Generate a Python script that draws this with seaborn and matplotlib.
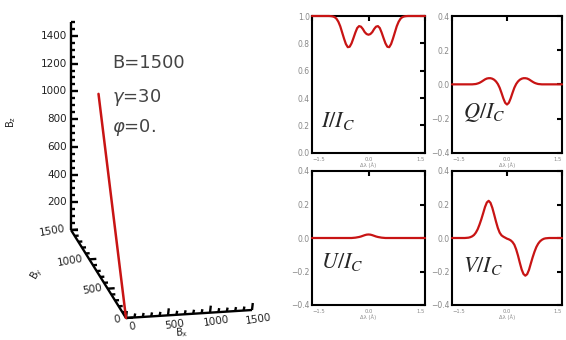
import numpy as np
import matplotlib
matplotlib.use('Agg')
import matplotlib.pyplot as plt
import seaborn as sns
from matplotlib.ticker import FuncFormatter

# Field vector parameters
B_field = 1500
gamma_deg = 30
phi_deg = 0

# Stokes profiles (every 0.05 A)
wavelength = [-1.5, -1.45, -1.4, -1.35, -1.3, -1.25, -1.2, -1.15, -1.1, -1.05,
              -1.0, -0.95, -0.9, -0.85, -0.8, -0.75, -0.7, -0.65, -0.6, -0.55,
              -0.5, -0.45, -0.4, -0.35, -0.3, -0.25, -0.2, -0.15, -0.1, -0.05,
              0.0, 0.05, 0.1, 0.15, 0.2, 0.25, 0.3, 0.35, 0.4, 0.45,
              0.5, 0.55, 0.6, 0.65, 0.7, 0.75, 0.8, 0.85, 0.9, 0.95,
              1.0, 1.05, 1.1, 1.15, 1.2, 1.25, 1.3, 1.35, 1.4, 1.45, 1.5]
stokes_I = [1.0, 1.0, 1.0, 1.0, 1.0, 1.0, 1.0, 1.0, 1.0, 1.0,
            0.999, 0.997, 0.992, 0.98, 0.958, 0.925, 0.88, 0.835, 0.795, 0.772,
            0.775, 0.80, 0.838, 0.878, 0.912, 0.926, 0.922, 0.905, 0.882, 0.868,
            0.863, 0.868, 0.882, 0.905, 0.922, 0.926, 0.912, 0.878, 0.838, 0.80,
            0.775, 0.772, 0.795, 0.835, 0.88, 0.925, 0.958, 0.98, 0.992, 0.997,
            0.999, 1.0, 1.0, 1.0, 1.0, 1.0, 1.0, 1.0, 1.0, 1.0, 1.0]
stokes_Q = [0.0, 0.0, 0.0, 0.0, 0.0, 0.0, 0.0, 0.0, 0.0, 0.0,
            0.0, 0.0, 0.001, 0.002, 0.005, 0.009, 0.015, 0.022, 0.029, 0.034,
            0.036, 0.036, 0.033, 0.027, 0.017, 0.002, -0.02, -0.05, -0.082, -0.108,
            -0.118, -0.108, -0.082, -0.05, -0.02, 0.002, 0.017, 0.027, 0.033, 0.036,
            0.036, 0.034, 0.029, 0.022, 0.015, 0.009, 0.005, 0.002, 0.001, 0.0,
            0.0, 0.0, 0.0, 0.0, 0.0, 0.0, 0.0, 0.0, 0.0, 0.0, 0.0]
stokes_U = [0.0, 0.0, 0.0, 0.0, 0.0, 0.0, 0.0, 0.0, 0.0, 0.0,
            0.0, 0.0, 0.0, 0.0, 0.0, 0.0, 0.0, 0.0, 0.0, 0.0,
            0.0, 0.0, 0.001, 0.002, 0.004, 0.006, 0.009, 0.013, 0.017, 0.020,
            0.021, 0.020, 0.017, 0.013, 0.009, 0.006, 0.004, 0.002, 0.001, 0.0,
            0.0, 0.0, 0.0, 0.0, 0.0, 0.0, 0.0, 0.0, 0.0, 0.0,
            0.0, 0.0, 0.0, 0.0, 0.0, 0.0, 0.0, 0.0, 0.0, 0.0, 0.0]
stokes_V = [0.0, 0.0, 0.0, 0.0, 0.0, 0.0, 0.0, 0.0, 0.001, 0.002,
            0.005, 0.01, 0.018, 0.032, 0.052, 0.08, 0.112, 0.148, 0.185, 0.212,
            0.222, 0.21, 0.18, 0.14, 0.098, 0.06, 0.032, 0.016, 0.008, 0.002,
            -0.004, -0.008, -0.014, -0.024, -0.04, -0.068, -0.105, -0.148, -0.188, -0.215,
            -0.225, -0.216, -0.19, -0.152, -0.115, -0.082, -0.054, -0.034, -0.02, -0.011,
            -0.005, -0.002, -0.001, 0.0, 0.0, 0.0, 0.0, 0.0, 0.0, 0.0, 0.0]

panel_labels = [r'$I/I_C$', r'$Q/I_C$', r'$U/I_C$', r'$V/I_C$']

sns.set_style('white')
plt.rcParams['font.family'] = ['DejaVu Sans']

red = '#c81414'
fig = plt.figure(figsize=(5.66, 3.4), dpi=100)

# ---- left: pseudo 3D view of the field vector (pixel coordinates) ----
ax3 = fig.add_axes([0, 0, 290 / 566, 1])
ax3.set_xlim(0, 290)
ax3.set_ylim(340, 0)
ax3.axis('off')

origin = np.array([126.0, 318.0])
ex = np.array([126.0, -8.0]) / 1500
ey = np.array([-55.0, -88.0]) / 1500
ez = np.array([0.0, -208.0]) / 1500

def proj(bx, by, bz):
    p = origin + bx * ex + by * ey + bz * ez
    return p[0], p[1]

def seg(p, q):
    ax3.plot([p[0], q[0]], [p[1], q[1]], color='black', lw=1.7,
             solid_capstyle='butt')

seg(proj(0, 0, 0), proj(1500, 0, 0))
seg(proj(0, 0, 0), proj(0, 1500, 0))
seg(proj(0, 1500, 0), proj(0, 1500, 1500))

tfont = dict(fontsize=7.5, color='#222222')
# Bx axis
for v in range(0, 1501, 100):
    x, y = proj(v, 0, 0)
    L = 7 if v % 500 == 0 else 4
    seg((x, y), (x + 0.8, y - L))
    if v % 500 == 0:
        ax3.text(x + 6, y + 9, str(v), ha='center', va='center', rotation=8, **tfont)
# By axis
for v in range(0, 1501, 100):
    x, y = proj(0, v, 0)
    L = 7 if v % 500 == 0 else 4
    seg((x, y), (x + L, y - L * 8 / 126))
    if v % 500 == 0:
        ax3.text(x - 5, y + 1, str(v), ha='right', va='center', rotation=10, **tfont)
# Bz axis
for v in range(0, 1501, 50):
    x, y = proj(0, 1500, v)
    L = 7 if v % 200 == 0 else 4
    seg((x, y), (x + L, y))
    if v % 200 == 0 and 0 < v < 1500:
        ax3.text(x - 4, y, str(v), ha='right', va='center', **tfont)

ax3.text(182, 333, r'B$_\mathrm{x}$', ha='center', va='center', rotation=5, fontsize=7)
ax3.text(37, 274, r'B$_\mathrm{y}$', ha='center', va='center', rotation=60, fontsize=7)
ax3.text(11, 122, r'B$_\mathrm{z}$', ha='center', va='center', rotation=90, fontsize=7)

# field vector
g = np.deg2rad(gamma_deg)
f = np.deg2rad(phi_deg)
bx_end = B_field * np.sin(g) * np.sin(f)
by_end = B_field * np.sin(g) * np.cos(f)
bz_end = B_field * np.cos(g)
p0 = proj(0, 0, 0)
p1 = proj(bx_end, by_end, bz_end)
sns.lineplot(x=[p0[0], p1[0]], y=[p0[1], p1[1]], ax=ax3, color=red, lw=1.8,
             sort=False, zorder=5)
ax3.set_xlim(0, 290)
ax3.set_ylim(340, 0)

big = dict(fontsize=13, color='#444444', va='center', ha='left')
ax3.text(112, 63, f'B={B_field}', **big)
ax3.text(112, 97, rf'$\gamma$={gamma_deg}', **big)
ax3.text(112, 127, rf'$\varphi$={phi_deg:.0f}.', **big)

# ---- right: Stokes profiles ----
W, H = 566, 340
boxes = [(312, 16, 425, 152.7), (452, 16, 562, 152.7),
         (312, 171, 425, 305), (452, 171, 562, 305)]
profiles = [stokes_I, stokes_Q, stokes_U, stokes_V]
label_pos = [(0.08, 0.19), (0.1, 0.255), (0.08, 0.276), (0.1, 0.246)]

fmt = FuncFormatter(lambda v, p: f'{v:.1f}'.replace('-', '\u2212') if abs(v) > 1e-9 else '0.0')

for i, (box, prof) in enumerate(zip(boxes, profiles)):
    x0, y0, x1, y1 = box
    ax = fig.add_axes([x0 / W, 1 - y1 / H, (x1 - x0) / W, (y1 - y0) / H])
    sns.lineplot(x=wavelength, y=prof, ax=ax, color=red, lw=1.6, zorder=5, clip_on=False)
    ax.set_xlim(-1.5, 1.5)
    if i == 0:
        ax.set_ylim(0, 1)
        ax.set_yticks([0, 0.2, 0.4, 0.6, 0.8, 1.0])
    else:
        ax.set_ylim(-0.4, 0.4)
        ax.set_yticks([-0.4, -0.2, 0.0, 0.2, 0.4])
    ax.set_xticks([-1.5, 0.0, 1.5])
    ax.xaxis.set_major_formatter(fmt)
    ax.yaxis.set_major_formatter(fmt)
    for s in ax.spines.values():
        s.set_linewidth(1.5)
        s.set_color('black')
    ax.tick_params(axis='both', direction='in', length=3.5, width=1.5, color='black',
                   top=True, right=True, labelcolor='#888888')
    ax.tick_params(axis='y', labelsize=5.5, pad=1.5)
    ax.tick_params(axis='x', labelsize=3.8, pad=3.2)
    xl = ax.get_xticklabels()
    xl[0].set_ha('left')
    xl[-1].set_ha('right')
    ax.set_xlabel('\u0394\u03bb (\u00c5)', fontsize=3.8, color='#888888', labelpad=0.2)
    ax.set_ylabel('')
    ax.text(label_pos[i][0], label_pos[i][1], panel_labels[i], transform=ax.transAxes,
            fontsize=16, math_fontfamily='stix', ha='left', va='baseline')

fig.savefig('out.png', dpi=100)
